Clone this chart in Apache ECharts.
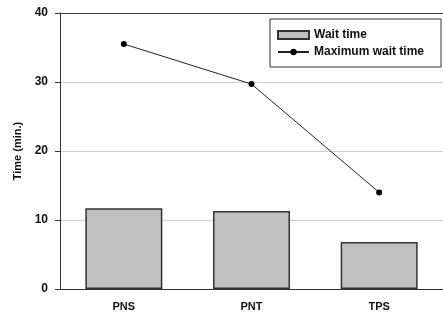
<!DOCTYPE html>
<html><head><meta charset="utf-8">
<script src="https://cdn.jsdelivr.net/npm/echarts@6/dist/echarts.min.js"></script>
<style>html,body{margin:0;padding:0;background:#fff}#c{width:443px;height:315px}</style>
</head><body><div id="c"></div>
<script>
const categories = ['PNS', 'PNT', 'TPS'];
const waitTime = [11.7, 11.3, 6.8];
const maxWaitTime = [35.5, 29.7, 14.0];
const yTicks = [0, 10, 20, 30, 40];

const chart = echarts.init(document.getElementById('c'));
const font = 'Liberation Sans, Arial, sans-serif';
chart.setOption({
  animation: false,
  grid: {left: 60, top: 13, bottom: 26, width: 390},
  legend: {
    orient: 'vertical', left: 270, top: 19,
    padding: [10, 17, 9, 7], itemGap: 5,
    borderColor: '#333', borderWidth: 1, backgroundColor: '#fff',
    itemWidth: 31, itemHeight: 8,
    textStyle: {fontFamily: font, fontWeight: 'bold', fontSize: 12, color: '#111'},
    data: [
      {name: 'Wait time', icon: 'rect'},
      {name: 'Maximum wait time'}
    ]
  },
  xAxis: [{
    type: 'category', data: categories,
    axisLine: {lineStyle: {color: '#333', width: 1}},
    axisTick: {alignWithLabel: true, length: 4, lineStyle: {color: '#333'}},
    axisLabel: {fontFamily: font, fontWeight: 'bold', fontSize: 11, color: '#111', margin: 12}
  }, {
    type: 'category', data: categories, position: 'top',
    axisLine: {show: true, lineStyle: {color: '#444', width: 1}},
    axisTick: {show: false}, axisLabel: {show: false}
  }],
  yAxis: {
    type: 'value', min: yTicks[0], max: yTicks[yTicks.length - 1], interval: 10,
    name: 'Time (min.)', nameLocation: 'middle', nameGap: 36,
    nameTextStyle: {fontFamily: font, fontWeight: 'bold', fontSize: 11, color: '#111'},
    axisLine: {show: true, lineStyle: {color: '#333', width: 1}},
    axisTick: {show: true, length: 5, lineStyle: {color: '#333'}},
    axisLabel: {fontFamily: font, fontWeight: 'bold', fontSize: 12, color: '#111', margin: 12},
    splitLine: {lineStyle: {color: '#cfcfcf', width: 1}}
  },
  series: [{
    name: 'Wait time', type: 'bar', data: waitTime, barWidth: 77,
    itemStyle: {color: '#c0c0c0', borderColor: '#333', borderWidth: 1.5}
  }, {
    name: 'Maximum wait time', type: 'line', data: maxWaitTime,
    symbol: 'circle', symbolSize: 6,
    lineStyle: {color: '#222', width: 1},
    itemStyle: {color: '#000'}
  }]
});
</script></body></html>
